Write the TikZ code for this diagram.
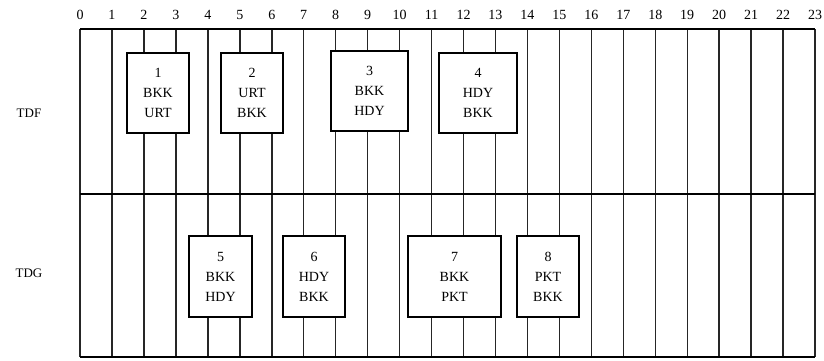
\documentclass[tikz,border=0pt]{standalone}
\usepackage{fontspec}
\setmainfont{Liberation Serif}
\begin{document}
\begin{tikzpicture}[x=1pt,y=-1pt,
  vline/.style={draw=black!85,line width=1.5pt},
  hline/.style={draw=black,line width=1.4pt},
  num/.style={font=\fontsize{14}{14}\selectfont,inner sep=0pt},
  lab/.style={font=\fontsize{13}{13}\selectfont,inner sep=0pt},
  flight/.style={draw=black,line width=1.4pt,fill=white,inner sep=0pt,align=center,
    font=\fontsize{14}{20}\selectfont,minimum height=80pt}]
\useasboundingbox (0,0) rectangle (824,360);
\foreach \i in {0,...,23}{
  \draw[vline] ({80+\i*31.96},29) -- ({80+\i*31.96},357);
  \node[num] (n\i) at ({80+\i*31.96},15) {\i};
}
\draw[hline] (80,29) -- (815.1,29);
\draw[hline] (80,194) -- (815.1,194);
\draw[hline] (80,357) -- (815.1,357);
\node[lab] (tdf) at (29,113) {TDF};
\node[lab] (tdg) at (29,273) {TDG};
\node[flight,minimum width=62pt] (f1) at (158,93) {1\\BKK\\URT};
\node[flight,minimum width=62pt] (f2) at (252,93) {2\\URT\\BKK};
\node[flight,minimum width=77pt] (f3) at (369.5,91) {3\\BKK\\HDY};
\node[flight,minimum width=78pt] (f4) at (478,93) {4\\HDY\\BKK};
\node[flight,minimum width=63pt,minimum height=81pt] (f5) at (220.5,276.5) {5\\BKK\\HDY};
\node[flight,minimum width=62pt,minimum height=81pt] (f6) at (314,276.5) {6\\HDY\\BKK};
\node[flight,minimum width=93pt,minimum height=81pt] (f7) at (454.5,276.5) {7\\BKK\\PKT};
\node[flight,minimum width=62pt,minimum height=81pt] (f8) at (548,276.5) {8\\PKT\\BKK};
\end{tikzpicture}
\end{document}
